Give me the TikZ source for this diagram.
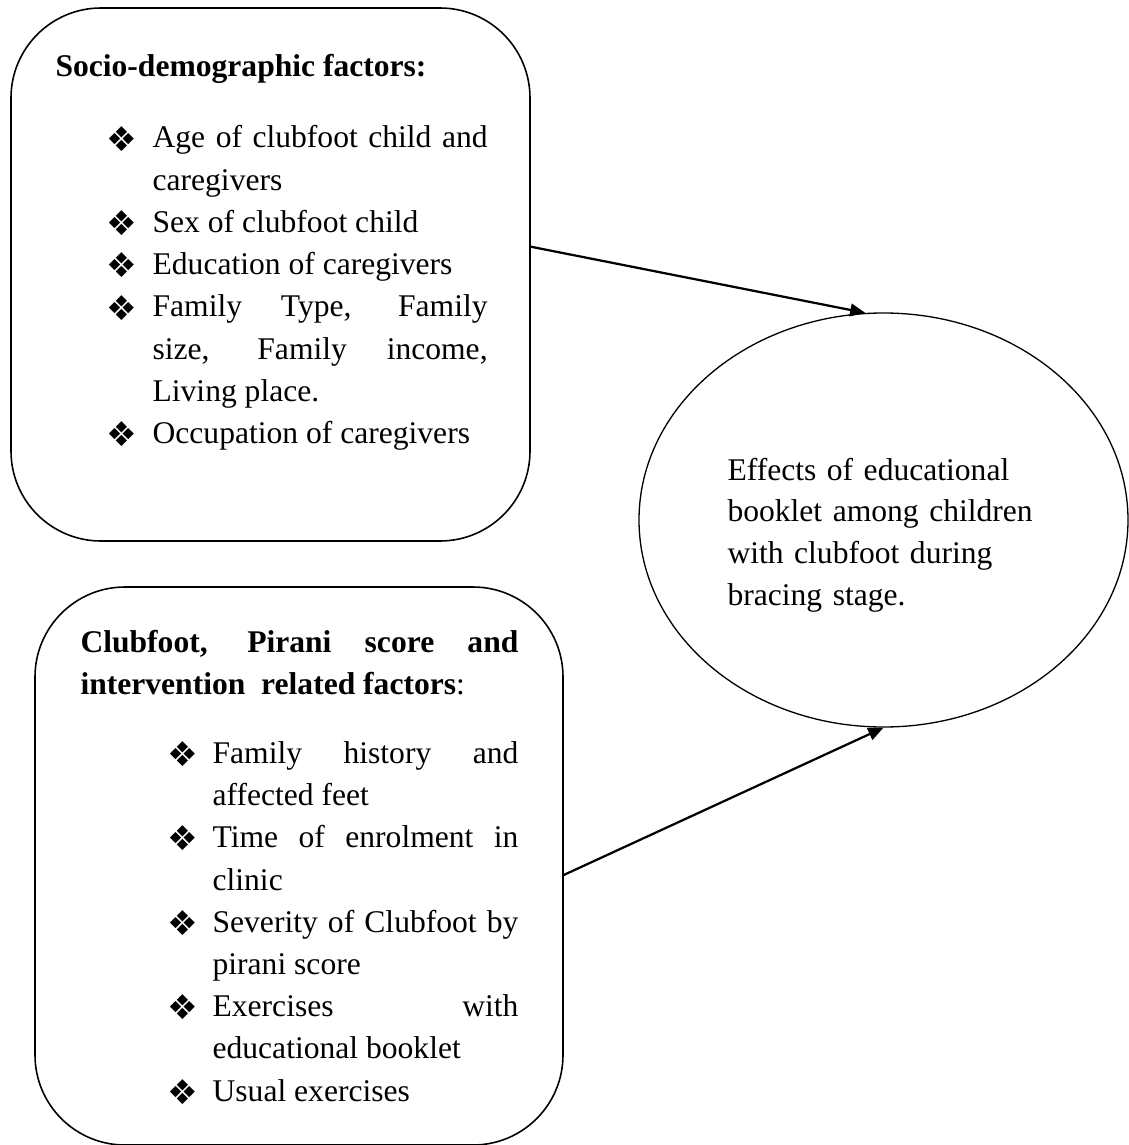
\documentclass[tikz,border=0pt]{standalone}
\usepackage{fontspec}
\setmainfont{Liberation Serif}
\newfontfamily\symfont{DejaVu Sans}
\usepackage{tikz}
\usetikzlibrary{positioning,calc,shapes.geometric,arrows.meta}

\newlength\bulind
\newlength\txtind
\newcommand{\dia}{\smash{\raisebox{-1.2pt}{\symfont\fontsize{13}{13}\selectfont ❖}}}
\newcommand{\fitem}[1]{\par\noindent\hangindent=\txtind\hangafter=1%
    \hspace*{\bulind}\makebox[\dimexpr\txtind-\bulind\relax][l]{\dia}#1\par}

\tikzset{
    factorbox/.style={rectangle, rounded corners=34.2pt, draw=black, line width=0.6pt, inner sep=0pt},
    boxtext/.style={inner sep=0pt, align=justify, anchor=base west,
        font=\fontsize{12}{16.05}\selectfont},
    outcome/.style={ellipse, draw=black, line width=0.5pt, inner sep=0pt,
        minimum width=489*0.38pt, minimum height=414*0.38pt},
    link/.style={-{Triangle[length=5.8pt, width=4.8pt]}, line width=0.85pt}
}

\begin{document}
\begin{tikzpicture}[x=0.38pt, y=-0.38pt]

        \useasboundingbox (0,0) rectangle (1129,1145);

        % --- HỘP 1: SOCIO-DEMOGRAPHIC ---
        \node[factorbox, minimum width=519*0.38pt, minimum height=533*0.38pt] (socio) at (270.5,274.5) {};
        \node[boxtext, text width=164.2pt,
            execute at begin node={\setlength\bulind{19.4pt}\setlength\txtind{36.9pt}\parskip=0pt}
        ] (sociotxt) at (55,77) {%
            {\bfseries Socio-demographic factors:}\par\vspace{10.9pt}
            \fitem{Age of clubfoot child and\linebreak caregivers}
            \fitem{Sex of clubfoot child}
            \fitem{Education of caregivers}
            \fitem{Family Type, Family\linebreak size, Family income,\linebreak Living place.}
            \fitem{Occupation of caregivers}};

        % --- HỘP 2: CLUBFOOT / PIRANI ---
        \node[factorbox, minimum width=528*0.38pt, minimum height=558*0.38pt] (clinic) at (299,866) {};
        \node[boxtext, text width=166.4pt,
            execute at begin node={\setlength\bulind{33.1pt}\setlength\txtind{50.2pt}\parskip=0pt}
        ] (clinictxt) at (80,652) {%
            {\bfseries Clubfoot, Pirani score and\linebreak intervention\ \ related factors}:\par\vspace{10.2pt}
            \fitem{Family history and\linebreak affected feet}
            \fitem{Time of enrolment in\linebreak clinic}
            \fitem{Severity of Clubfoot by\linebreak pirani score}
            \fitem{Exercises with\linebreak educational booklet}
            \fitem{Usual exercises}};

        % --- ELLIPSE: KẾT QUẢ ---
        \node[outcome] (eff) at (883.5,520) {};
        \node[inner sep=0pt, text width=118pt, align=left, anchor=base west,
            font=\fontsize{12}{15.85}\selectfont] (efftxt) at (727,480)
            {Effects of educational\\booklet among children\\with clubfoot during\\bracing stage.};

        % --- MŨI TÊN ---
        \draw[link] ($(socio.north east)!0.448!(socio.south east)$) -- (eff.95);
        \draw[link] ($(clinic.north east)!0.516!(clinic.south east)$) -- (eff.south);

\end{tikzpicture}
\end{document}
